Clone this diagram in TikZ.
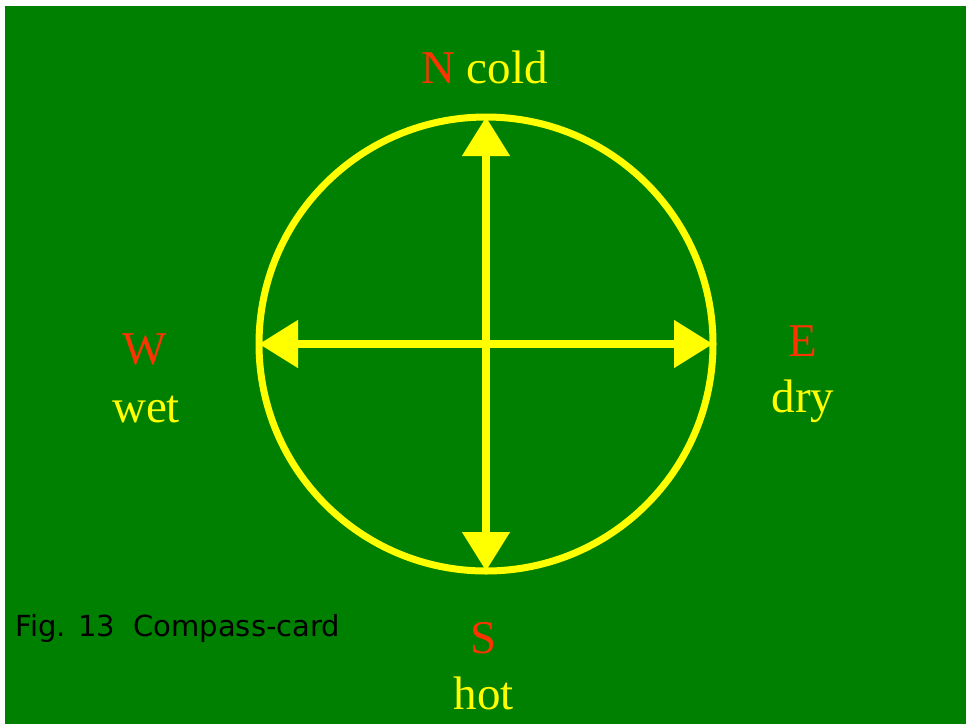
\documentclass[tikz,border=0pt]{standalone}
\usepackage{fontspec}
\setmainfont{Liberation Serif}
\newfontfamily\capfont{DejaVu Sans}
\usetikzlibrary{arrows.meta}
\definecolor{bggreen}{HTML}{008000}
\definecolor{cardyellow}{HTML}{FFFF00}
\definecolor{cardred}{HTML}{FF3300}
\tikzset{
  lbl/.style={inner sep=0pt, anchor=base, font=\fontsize{47}{56}\selectfont},
  dirlbl/.style={lbl, text=cardred},
  qual/.style={lbl, text=cardyellow},
  axis/.style={draw=cardyellow, line width=8pt, {Triangle[length=39pt,width=46pt]}-{Triangle[length=39pt,width=46pt]}},
}
\begin{document}
\begin{tikzpicture}[x=1pt,y=-1pt]
\useasboundingbox (0,0) rectangle (966,724);
\fill[white] (0,0) rectangle (966,724);
\fill[bggreen] (5,6) rectangle (966,724);
\coordinate (c) at (486,344);
\draw[cardyellow, line width=7pt] (c) circle[radius=227];
\coordinate (top) at (486,117);
\coordinate (bot) at (486,571);
\coordinate (lft) at (259,344);
\coordinate (rgt) at (713,344);
\draw[axis] (top) -- (bot);
\draw[axis] (lft) -- (rgt);
\node[qual] (n) at (484.5,83) {{\color{cardred}N} cold};
\node[dirlbl] (w) at (145,364) {W};
\node[qual] (wet) at (146,422) {wet};
\node[dirlbl] (e) at (803,356) {E};
\node[qual] (dry) at (803,412) {dry};
\node[dirlbl] (s) at (484,653) {S};
\node[qual] (hot) at (484,709) {hot};
\node[inner sep=0pt, anchor=base west, font=\capfont\fontsize{29}{34}\selectfont] (cap) at (15.5,636) {Fig. 13\ \ Compass-card};
\end{tikzpicture}
\end{document}
